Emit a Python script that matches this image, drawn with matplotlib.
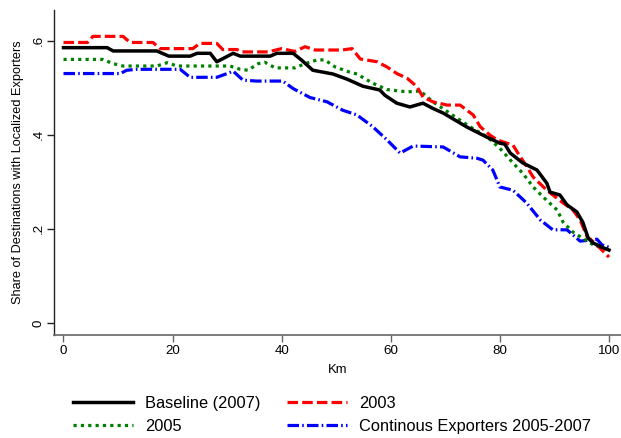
import matplotlib
matplotlib.use("Agg")
import matplotlib.pyplot as plt

plt.rcParams['font.family'] = ['Liberation Sans', 'DejaVu Sans']

# Distance (km) and share of destinations with localized exporters
km_base = [0, 8, 9.1, 17.1, 19.3, 23.2, 24.5, 26.9, 28.1, 31.1, 32.4, 37.9, 39.1, 42.1,
           43.7, 45.7, 49.4, 52.0, 54.9, 58.0, 58.9, 61.1, 63.5, 65.9, 67.7, 69.6, 74.0,
           77.6, 80.0, 80.9, 81.9, 84.2, 86.8, 88.6, 89.2, 91.0, 92.3, 94.1, 95.2, 96.2,
           97.1, 98.7, 100]
share_base = [0.585, 0.585, 0.578, 0.578, 0.567, 0.567, 0.573, 0.573, 0.555, 0.573, 0.567,
              0.567, 0.573, 0.573, 0.558, 0.537, 0.529, 0.518, 0.503, 0.495, 0.484, 0.467,
              0.459, 0.467, 0.456, 0.446, 0.416, 0.395, 0.382, 0.380, 0.361, 0.340, 0.325,
              0.297, 0.278, 0.272, 0.251, 0.236, 0.214, 0.180, 0.170, 0.161, 0.155]

km_2003 = [0, 4.4, 5.4, 10.9, 12.2, 16.4, 17.7, 23.7, 25.0, 28.1, 29.2, 31.8, 32.7, 37.5,
           40.0, 42.4, 44.3, 46.1, 51.1, 52.9, 54.4, 57.5, 59.3, 61.1, 63.0, 64.8, 65.9,
           67.7, 70.3, 72.7, 75.1, 76.4, 78.2, 79.5, 81.3, 82.4, 83.3, 85.0, 86.1, 88.6,
           91.6, 93.4, 94.7, 96.0, 97.4, 100]
share_2003 = [0.596, 0.596, 0.609, 0.609, 0.596, 0.596, 0.583, 0.583, 0.594, 0.594, 0.581,
              0.581, 0.576, 0.576, 0.583, 0.577, 0.587, 0.580, 0.580, 0.583, 0.561, 0.555,
              0.544, 0.530, 0.520, 0.502, 0.480, 0.470, 0.463, 0.463, 0.442, 0.417, 0.399,
              0.389, 0.382, 0.378, 0.361, 0.331, 0.310, 0.282, 0.255, 0.240, 0.219, 0.183,
              0.170, 0.140]

km_2005 = [0, 7.2, 9.1, 10.9, 17.1, 19.0, 20.8, 30.5, 32.4, 33.8, 35.7, 36.9, 38.8, 42.4,
           44.3, 46.5, 47.9, 49.8, 52.2, 53.8, 56.6, 59.3, 63.0, 65.4, 67.7, 70.9, 74.5,
           77.6, 80.0, 82.4, 84.2, 86.1, 87.9, 90.5, 91.6, 93.4, 95.2, 97.1, 100]
share_2005 = [0.560, 0.560, 0.551, 0.546, 0.546, 0.553, 0.546, 0.546, 0.539, 0.537, 0.551,
              0.554, 0.542, 0.542, 0.551, 0.559, 0.559, 0.544, 0.534, 0.529, 0.510, 0.496,
              0.491, 0.493, 0.470, 0.445, 0.417, 0.396, 0.371, 0.340, 0.318, 0.289, 0.268,
              0.240, 0.214, 0.193, 0.180, 0.166, 0.155]

km_cont = [0, 10.4, 11.6, 13.5, 21.4, 23.2, 28.1, 30.0, 31.1, 32.9, 35.4, 40.2, 42.1, 45.2,
           48.3, 51.2, 53.8, 56.7, 59.3, 61.7, 64.1, 69.6, 72.7, 75.8, 76.9, 78.7, 80.0,
           82.4, 84.9, 87.4, 89.7, 92.3, 94.7, 96.5, 97.8, 98.7, 100]
share_cont = [0.530, 0.530, 0.537, 0.539, 0.539, 0.522, 0.522, 0.530, 0.535, 0.516, 0.514,
              0.514, 0.498, 0.479, 0.470, 0.452, 0.442, 0.417, 0.389, 0.361, 0.376, 0.374,
              0.353, 0.350, 0.346, 0.325, 0.289, 0.282, 0.255, 0.219, 0.198, 0.198, 0.174,
              0.176, 0.178, 0.166, 0.161]

labels = ["Baseline (2007)", "2003", "2005", "Continous Exporters 2005-2007"]
x_ticks = [0, 20, 40, 60, 80, 100]
y_ticks = [0, 0.2, 0.4, 0.6]
y_tick_labels = ["0", ".2", ".4", ".6"]

W, H = 621, 438
fig = plt.figure(figsize=(W / 100, H / 100), dpi=100)
fig.patch.set_facecolor("white")
ax = fig.add_axes([54 / W, 1 - 335 / H, (W - 54) / W, (335 - 10) / H])

styles = {
    "base": dict(color="black", lw=2.5, linestyle="-"),
    "2003": dict(color="#ff0000", lw=2.3, linestyle=(0, (3.3, 1.3))),
    "2005": dict(color="#008000", lw=2.3, linestyle=(0, (1.0, 1.3))),
    "cont": dict(color="#0000ff", lw=2.3, linestyle=(0, (3.6, 1.0, 0.5, 1.0))),
}

h_base, = ax.plot(km_base, share_base, **styles["base"], zorder=5)
h_2003, = ax.plot(km_2003, share_2003, **styles["2003"], zorder=4)
h_2005, = ax.plot(km_2005, share_2005, **styles["2005"], zorder=3)
h_cont, = ax.plot(km_cont, share_cont, **styles["cont"], zorder=2)

ax.set_xlim(-1.74, 102.2)
ax.set_ylim(-0.0255, 0.665)

for side in ("top", "right"):
    ax.spines[side].set_visible(False)
ax.spines["left"].set_color("#222222")
ax.spines["bottom"].set_color("#666666")
ax.spines["left"].set_linewidth(1.0)
ax.spines["bottom"].set_linewidth(1.2)

ax.set_xticks(x_ticks)
ax.set_xticklabels([str(t) for t in x_ticks], fontsize=9.6)
ax.set_yticks(y_ticks)
ax.set_yticklabels(y_tick_labels, fontsize=9.6, rotation=90, va="center")
ax.tick_params(axis="x", length=5, width=1, color="#666666", pad=2)
ax.tick_params(axis="y", length=5, width=1, color="#222222", pad=2)

ax.set_xlabel("Km", fontsize=9.4, labelpad=5)
ax.set_ylabel("Share of Destinations with Localized Exporters", fontsize=9.2, labelpad=6)

leg = fig.legend(
    [h_base, h_2005, h_2003, h_cont],
    [labels[0], labels[2], labels[1], labels[3]],
    ncol=2, loc="upper left", bbox_to_anchor=(73 / W, 1 - 396 / H),
    frameon=False, fontsize=11.8, handlelength=3.66, handletextpad=0.72,
    columnspacing=1.65, labelspacing=0.48, borderpad=0, borderaxespad=0,
)

fig.savefig("out.png", dpi=100, facecolor="white")
